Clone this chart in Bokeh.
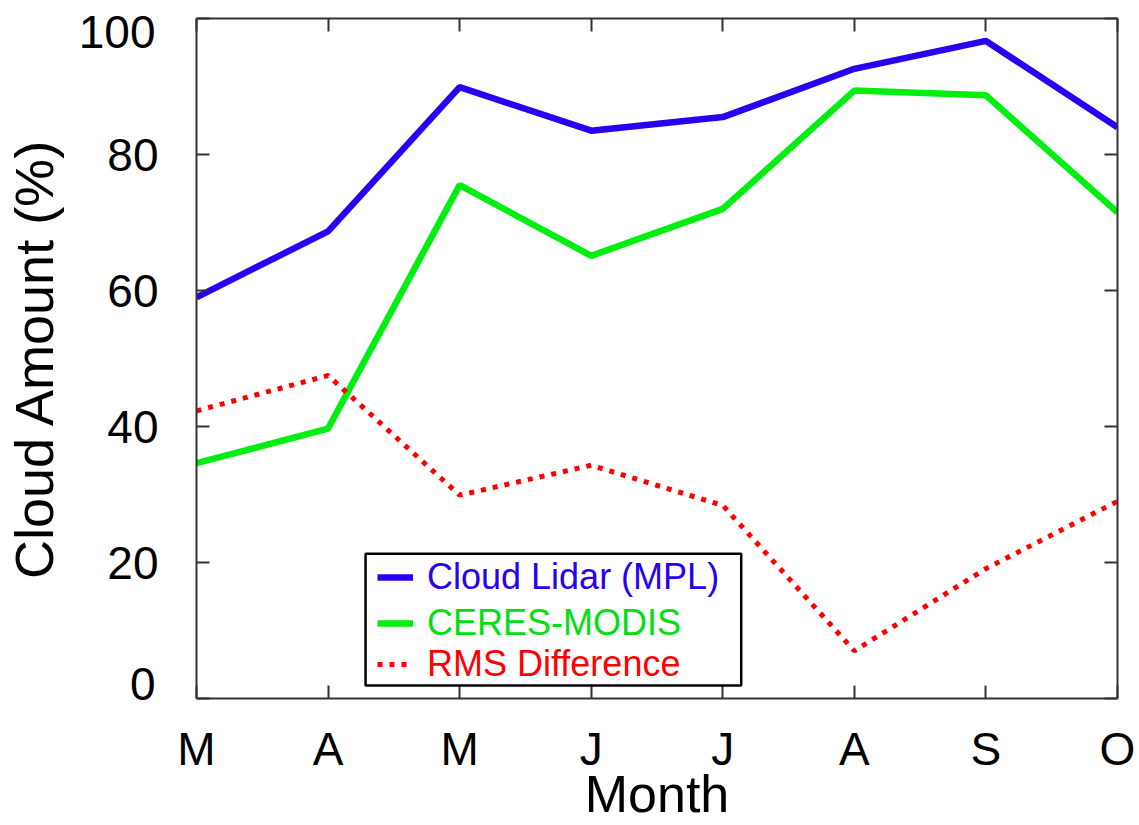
from bokeh.plotting import figure
from bokeh.models import (Range1d, FixedTicker, LinearAxis, Legend, LegendItem,
                          BoxAnnotation)
from bokeh.embed import file_html
from bokeh.resources import INLINE

# ---- data ----
months = ["Mar", "Apr", "May", "Jun", "Jul", "Aug", "Sep", "Oct"]
tick_labels = ["M", "A", "M", "J", "J", "A", "S", "O"]
lidar_mpl = [59.0, 68.7, 89.9, 83.5, 85.5, 92.6, 96.7, 84.0]
ceres_modis = [34.6, 39.7, 75.5, 65.1, 72.0, 89.4, 88.7, 71.5]
rms_diff = [42.3, 47.5, 29.9, 34.3, 28.4, 7.0, 19.1, 29.0]
y_ticks = [0, 20, 40, 60, 80, 100]

x = list(range(len(months)))
FONT = "Liberation Sans"
AXIS_COL = "#333333"
FRAME_H = 680          # plot-area height in px
EDGE_IN = (15, 13)     # px the 0 / 100 labels sit inside the frame (bottom, top)

p = figure(width=1139, height=825, output_backend="svg", toolbar_location=None,
           x_range=Range1d(0, len(months) - 1), y_range=Range1d(0, 100),
           min_border_left=196, min_border_right=22, min_border_top=18,
           min_border_bottom=127, x_axis_location=None, y_axis_location=None)
p.xgrid.visible = False
p.ygrid.visible = False
p.outline_line_color = None
p.background_fill_color = "white"
p.border_fill_color = "white"

# range used only to place the 0 and 100 labels slightly inside the frame
span = 100.0 / (FRAME_H - EDGE_IN[0] - EDGE_IN[1])
p.extra_y_ranges = {"edge": Range1d(-EDGE_IN[0] * span, 100 + EDGE_IN[1] * span)}

xt = FixedTicker(ticks=x)
yt = FixedTicker(ticks=y_ticks)
edge_ticks = [y_ticks[0], y_ticks[-1]]


def style(ax):
    ax.axis_line_color = AXIS_COL
    ax.axis_line_width = 2
    ax.major_tick_line_color = AXIS_COL
    ax.major_tick_line_width = 2
    ax.major_tick_in = 13
    ax.major_tick_out = 0
    ax.minor_tick_line_color = None
    ax.major_label_text_font = FONT
    ax.major_label_text_color = "black"
    ax.axis_label_text_font = FONT
    ax.axis_label_text_font_style = "normal"
    ax.axis_label_text_color = "black"


bottom = LinearAxis(ticker=xt, axis_label="Month")
bottom.major_label_overrides = {i: t for i, t in zip(x, tick_labels)}
style(bottom)
bottom.major_label_text_font_size = "46px"
bottom.axis_label_text_font_size = "52px"
bottom.major_label_standoff = 24
bottom.axis_label_standoff = -13
p.add_layout(bottom, "below")

# inner left axis: frame line, ticks, labels 20..80
left = LinearAxis(ticker=yt)
left.major_label_overrides = {v: ("" if v in edge_ticks else str(v)) for v in y_ticks}
style(left)
left.major_label_text_font_size = "46px"
left.major_label_standoff = 38
p.add_layout(left, "left")

# outer left axis: labels 0 and 100 (overlapping back onto the inner column) + title
left2 = LinearAxis(ticker=FixedTicker(ticks=edge_ticks), y_range_name="edge",
                   axis_label="Cloud Amount (%)")
style(left2)
left2.axis_line_color = None
left2.major_tick_line_color = None
left2.major_tick_in = 0
left2.major_label_text_font_size = "46px"
left2.major_label_standoff = -51
left2.axis_label_text_font_size = "54px"
left2.axis_label_standoff = 12
p.add_layout(left2, "left")

top = LinearAxis(ticker=xt)
top.major_label_overrides = {i: "" for i in x}
style(top)
top.major_label_text_font_size = "1px"
top.major_label_standoff = 0
p.add_layout(top, "above")

right = LinearAxis(ticker=yt)
right.major_label_overrides = {v: "" for v in y_ticks}
style(right)
right.major_label_text_font_size = "1px"
right.major_label_standoff = 0
p.add_layout(right, "right")

r_blue = p.line(x, lidar_mpl, line_color="#2a00f0", line_width=6.5)
r_green = p.line(x, ceres_modis, line_color="#00ee10", line_width=6.5)
r_red = p.line(x, rms_diff, line_color="#ff0000", line_width=5, line_dash="5 7")

# legend frame
p.add_layout(BoxAnnotation(left=1.285, right=4.14, bottom=1.9, top=21.3,
                           fill_color="white", fill_alpha=1.0,
                           line_color="black", line_alpha=1.0, line_width=2.5,
                           level="overlay"))

entries = [("Cloud Lidar (MPL)", r_blue, "#2a00f0", 100),
           ("CERES-MODIS", r_green, "#00e010", 54),
           ("RMS Difference", r_red, "#ff0000", 13)]
for label, rend, col, ypos in entries:
    lg = Legend(items=[LegendItem(label=label, renderers=[rend])],
                location=(181, ypos), label_text_color=col,
                label_text_font=FONT, label_text_font_size="36px",
                glyph_width=36, glyph_height=40, label_standoff=14,
                padding=0, margin=0, border_line_color=None,
                background_fill_alpha=0, label_height=40,
                inactive_fill_alpha=0)
    p.add_layout(lg, "center")

open("out.html", "w").write(file_html(p, INLINE))
